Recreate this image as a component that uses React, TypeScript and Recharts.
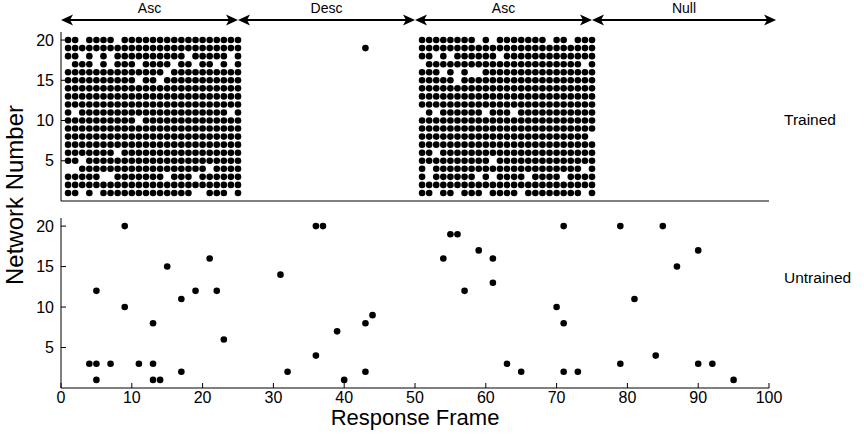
import React from 'react';
import { ScatterChart, Scatter, XAxis, YAxis, ReferenceLine } from 'recharts';

const FONT = '"Liberation Sans", Arial, Helvetica, sans-serif';

// trained nets: one string per network (20 at top, 1 at bottom), one char per frame
const trainedAsc1 = [
  '1101111011111111111111111',
  '1111111111111111111111111',
  '1101010111111111101111101',
  '0111010111011110110110101',
  '1111111111111101111111111',
  '1111111111011011111111111',
  '1111111111111111111111111',
  '1111111111111111111111111',
  '1111111111111111111111111',
  '1011111111111111111111101',
  '1111111111011111111111111',
  '1111111111111111111111111',
  '1111111111111111111111111',
  '1111111111111111111111111',
  '1111111011111111111111111',
  '1101111111111111111111111',
  '0011111111111111111101111',
  '1111100111111101110111111',
  '1111111111111111111111111',
  '1101011111111111110011101',
];

const trainedAsc2 = [
  '1111111101011111110110111',
  '1111111111111111111111111',
  '1101011111101111111111111',
  '0111111111111111111111101',
  '1110101001111111111111111',
  '1111101111111111111111111',
  '1111111111111111111111111',
  '1111111111111111111111111',
  '1111111111111111111111111',
  '0101111110111011111111111',
  '1111111111111111111111111',
  '1111111111111111111111111',
  '1111111111111111111111110',
  '1111111111111111111111111',
  '1101111111111111111111111',
  '1111111111011111111111111',
  '1011111111111111111111101',
  '1011111101011110111101111',
  '1111111111111111111111111',
  '1101101110111101111111101',
];

const trainedStrayX = [43];
const trainedStrayY = [19];

const untrainedX = [4, 5, 5, 5, 7, 9, 9, 11, 13, 13, 13, 14, 15, 17, 17, 19, 21, 22, 23, 31, 32, 36, 37, 36, 39, 40, 43, 43, 44, 54, 55, 56, 57, 59, 61, 61, 63, 65, 70, 71, 71, 71, 73, 79, 79, 81, 84, 85, 87, 90, 90, 92, 95];
const untrainedY = [3, 3, 1, 12, 3, 20, 10, 3, 8, 3, 1, 1, 15, 11, 2, 12, 16, 12, 6, 14, 2, 20, 20, 4, 7, 1, 8, 2, 9, 16, 19, 19, 12, 17, 16, 13, 3, 2, 10, 20, 8, 2, 2, 20, 3, 11, 4, 20, 15, 17, 3, 3, 1];

const xTicks = [0, 10, 20, 30, 40, 50, 60, 70, 80, 90, 100];
const yTicks = [5, 10, 15, 20];

const phaseLabels = ['Asc', 'Desc', 'Asc', 'Null'];
const phaseBounds = [0, 25, 50, 75, 101];

const gridPoints = (rows: string[], firstFrame: number) =>
  rows.flatMap((row, i) =>
    row.split('').flatMap((c, j) => (c === '1' ? [{ x: firstFrame + j, y: 20 - i }] : []))
  );

const trainedData = [
  ...gridPoints(trainedAsc1, 1),
  ...gridPoints(trainedAsc2, 51),
  ...trainedStrayX.map((x, i) => ({ x, y: trainedStrayY[i] })),
];
const untrainedData = untrainedX.map((x, i) => ({ x, y: untrainedY[i] }));

const dot = (p: any) => <circle cx={p.cx} cy={p.cy} r={3.3} fill="#000" />;

const tickStyle = { fontSize: 16, fill: '#000', fontFamily: FONT };
const axisLine = { stroke: '#000', strokeWidth: 1 };

// double headed arrow with its phase name on top
const arrow = (label: string) => (p: any) => {
  const { x1, x2, y1 } = p;
  const len = 12;
  const half = 5.5;
  return (
    <g>
      <line x1={x1 + 3} x2={x2 - 3} y1={y1} y2={y1} stroke="#000" strokeWidth={2} />
      <path d={`M${x1},${y1} L${x1 + len},${y1 - half} L${x1 + len - 3},${y1} L${x1 + len},${y1 + half} Z`} fill="#000" />
      <path d={`M${x2},${y1} L${x2 - len},${y1 - half} L${x2 - len + 3},${y1} L${x2 - len},${y1 + half} Z`} fill="#000" />
      <text x={(x1 + x2) / 2} y={y1 - 7} textAnchor="middle" fontSize={14} fontFamily={FONT} fill="#000">
        {label}
      </text>
    </g>
  );
};

export default function App() {
  return (
    <div style={{ position: 'absolute', left: 0, top: 0, width: 864, height: 436, background: '#fff' }}>
      <div style={{ position: 'absolute', left: 0, top: 0 }}>
        <ScatterChart width={864} height={205} margin={{ top: 32, right: 95, bottom: 3, left: 0 }}>
          <XAxis type="number" dataKey="x" domain={[0, 100]} ticks={xTicks} tick={false} tickLine={false} axisLine={axisLine} height={1} />
          <YAxis type="number" dataKey="y" domain={[0, 21]} ticks={yTicks} width={61} tick={tickStyle} tickSize={-5} tickMargin={12} tickLine={{ stroke: '#000' }} axisLine={axisLine} />
          {phaseLabels.map((label, i) => (
            <ReferenceLine
              key={i}
              segment={[{ x: phaseBounds[i], y: 22.5 }, { x: phaseBounds[i + 1], y: 22.5 }]}
              ifOverflow="visible"
              shape={arrow(label)}
            />
          ))}
          <Scatter data={trainedData} shape={dot} isAnimationActive={false} />
        </ScatterChart>
      </div>
      <div style={{ position: 'absolute', left: 0, top: 200 }}>
        <ScatterChart width={864} height={236} margin={{ top: 18, right: 95, bottom: 0, left: 0 }}>
          <XAxis
            type="number"
            dataKey="x"
            domain={[0, 100]}
            ticks={xTicks}
            height={48}
            tick={tickStyle}
            tickSize={-5}
            tickMargin={9}
            tickLine={{ stroke: '#000' }}
            axisLine={axisLine}
            label={{ value: 'Response Frame', position: 'insideBottom', offset: 11, fontSize: 22, fill: '#000', fontFamily: FONT }}
          />
          <YAxis type="number" dataKey="y" domain={[0, 21]} ticks={yTicks} width={61} tick={tickStyle} tickSize={-5} tickMargin={12} tickLine={{ stroke: '#000' }} axisLine={axisLine} />
          <Scatter data={untrainedData} shape={dot} isAnimationActive={false} />
        </ScatterChart>
      </div>
      <svg width={864} height={436} style={{ position: 'absolute', left: 0, top: 0, pointerEvents: 'none' }}>
        <text transform="translate(23,195) rotate(-90)" textAnchor="middle" fontSize={24} fontFamily={FONT} fill="#000">
          Network Number
        </text>
        <text x={784} y={125} fontSize={15.5} fontFamily={FONT} fill="#000">Trained</text>
        <text x={784} y={283} fontSize={15.5} fontFamily={FONT} fill="#000">Untrained</text>
      </svg>
    </div>
  );
}
